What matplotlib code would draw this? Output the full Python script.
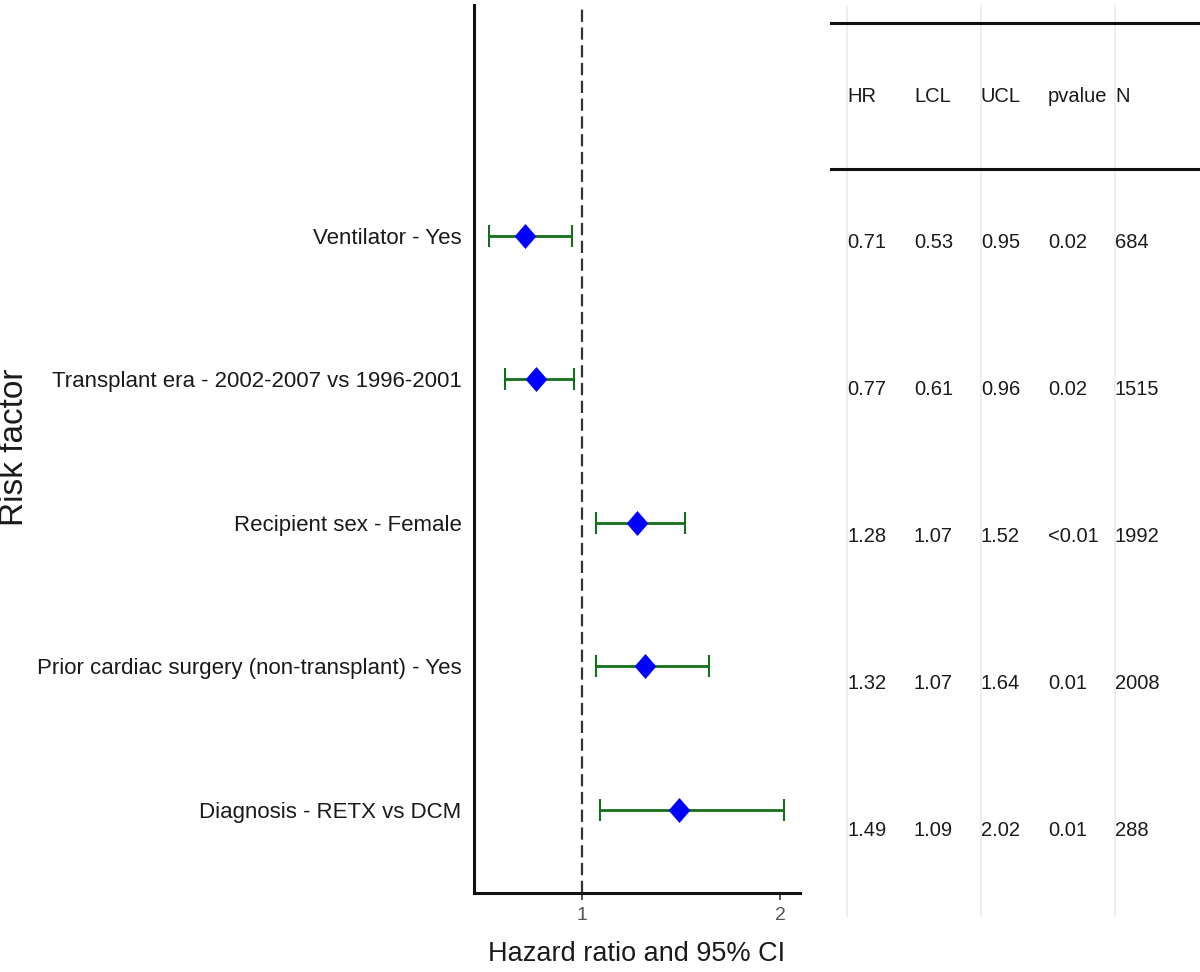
import matplotlib
matplotlib.use("Agg")
import matplotlib.pyplot as plt

# data, top row first
factors = [
    "Ventilator - Yes",
    "Transplant era - 2002-2007 vs 1996-2001",
    "Recipient sex - Female",
    "Prior cardiac surgery (non-transplant) - Yes",
    "Diagnosis - RETX vs DCM",
]
hr = [0.71, 0.77, 1.28, 1.32, 1.49]
lcl = [0.53, 0.61, 1.07, 1.07, 1.09]
ucl = [0.95, 0.96, 1.52, 1.64, 2.02]
pvalue = ["0.02", "0.02", "<0.01", "0.01", "0.01"]
n = [684, 1515, 1992, 2008, 288]
columns = ["HR", "LCL", "UCL", "pvalue", "N"]

plt.rcParams["font.family"] = ["Liberation Sans", "DejaVu Sans"]

fig = plt.figure(figsize=(12, 9.72), dpi=100)
W, H = 1200, 972
text_col = "#1a1a1a"

# forest plot
ax = fig.add_axes([474 / W, 1 - 893 / H, (800 - 474) / W, (893 - 5) / H])
rows = list(range(len(factors), 0, -1))  # 5..1, top to bottom
xerr = [[h - l for h, l in zip(hr, lcl)], [u - h for h, u in zip(hr, ucl)]]
ax.axvline(1, color="#333333", lw=1.6, ls=(0, (5.5, 2.5)), zorder=1)
ax.errorbar(hr, rows, xerr=xerr, fmt="none", ecolor="#12701a", elinewidth=2,
            capsize=8, capthick=1.5, zorder=2)
diamond = [(0, 1), (0.87, 0), (0, -1), (-0.87, 0), (0, 1)]
ax.plot(hr, rows, ls="none", marker=diamond, ms=18, color="#0000ff",
        markeredgewidth=0, zorder=3)
ax.set_xlim(1 - 108 / 198, 1 + 218 / 198)
ax.set_ylim(0.42, 6.61)
ax.set_xticks([1, 2])
ax.set_xticklabels(["1", "2"], fontsize=14, color="#555555")
ax.tick_params(axis="x", length=5, width=1.2, color="#333333", pad=5)
ax.set_yticks(rows)
ax.set_yticklabels(factors, fontsize=16, color=text_col)
ax.tick_params(axis="y", length=0, pad=9)
for side in ["top", "right"]:
    ax.spines[side].set_visible(False)
for side in ["left", "bottom"]:
    ax.spines[side].set_linewidth(2.2)
    ax.spines[side].set_color("#111111")

fig.text(637 / W, 1 - 954 / H, "Hazard ratio and 95% CI", fontsize=19.5,
         color=text_col, ha="center", va="center")
fig.text(15 / W, 1 - 447 / H, "Risk factor", fontsize=24, rotation=90,
         color=text_col, ha="center", va="center")

# table
tx = fig.add_axes([830 / W, 1 - 917 / H, (W - 830) / W, (917 - 5) / H])
tx.set_xlim(0.746, 6.27)
tx.set_ylim(0.41, 6.62)
tx.axis("off")
for c in [1, 3, 5]:
    tx.axvline(c, color="#ebebeb", lw=1.2, zorder=0)
tx.axhline(6.5, color="#111111", lw=2.2)
tx.axhline(5.5, color="#111111", lw=2.2)
for j, name in enumerate(columns):
    tx.text(j + 1, 6.0, name, fontsize=14.5, color=text_col, ha="left", va="center")
table_rows = [[f"{a:.2f}", f"{b:.2f}", f"{c:.2f}", p, str(k)]
              for a, b, c, p, k in zip(hr, lcl, ucl, pvalue, n)]
for r, vals in zip(rows, table_rows):
    for j, v in enumerate(vals):
        tx.text(j + 1, r, v, fontsize=14.5, color=text_col, ha="left", va="center")

fig.savefig("out.png", dpi=100, facecolor="white")
